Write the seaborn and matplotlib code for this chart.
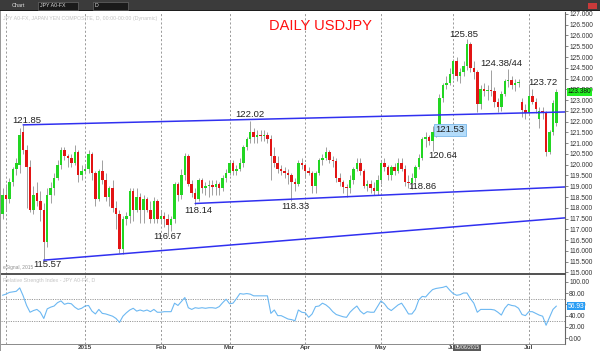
import numpy as np
import pandas as pd
import matplotlib
matplotlib.use("Agg")
import matplotlib.pyplot as plt
import seaborn as sns
from matplotlib.patches import Rectangle

# ---------------- data ----------------
dates = pd.bdate_range("2014-11-28", "2015-07-13")

opens = [117.7,118.6,118.4,119.2,119.8,120.0,121.5,120.7,119.9,117.9,118.7,118.3,117.9,116.4,118.6,118.9,119.4,120.0,120.7,120.4,
         120.3,120.1,120.6,119.5,119.7,119.8,120.5,119.6,118.4,119.7,119.3,118.5,118.9,118.0,117.7,116.1,117.5,117.6,118.8,117.9,
         118.5,117.9,118.4,117.9,117.5,118.3,117.5,117.6,117.5,117.2,117.5,119.1,118.6,119.5,120.4,119.1,118.7,118.4,119.3,118.9,
         119.0,119.05,118.95,119.1,118.9,119.4,119.6,120.1,119.7,119.8,120.1,120.8,121.2,121.5,121.3,121.4,121.35,121.4,121.2,120.4,
         120.1,119.8,119.7,119.6,119.5,119.2,119.1,120.1,120.0,119.7,119.6,119.0,119.6,120.2,120.3,120.6,120.2,120.15,119.4,119.2,
         118.95,118.9,119.3,119.8,120.1,119.7,119.0,119.1,118.9,118.8,119.3,120.1,119.9,119.5,119.9,119.7,120.1,119.8,119.2,119.15,
         119.4,119.9,120.3,121.2,121.3,121.1,121.5,121.55,123.1,123.7,123.8,124.2,124.8,124.1,124.3,124.6,125.6,124.5,124.3,122.8,
         123.5,123.4,123.45,123.4,122.9,122.7,123.3,123.9,123.95,123.7,123.8,122.9,122.55,122.4,123.2,122.9,122.1,122.5,122.4,120.6,
         121.5,121.95]
highs = [118.9,119.1,119.4,119.9,120.3,121.7,121.85,120.9,120.2,119.0,119.2,118.8,118.2,118.9,119.2,119.6,120.2,120.8,120.8,120.5,
         120.5,120.9,120.7,120.0,120.0,120.7,120.6,119.7,119.8,120.2,119.6,119.0,119.3,118.3,117.9,117.6,117.8,118.9,118.9,118.9,
         118.7,118.6,118.5,118.3,118.5,118.4,117.9,117.8,117.7,117.6,119.2,119.2,119.8,120.55,120.5,119.3,118.9,119.4,119.4,119.2,
         119.3,119.3,119.3,119.2,119.5,119.8,120.2,120.2,120.0,120.3,120.9,121.3,122.02,121.7,121.6,121.6,121.6,121.5,121.4,120.8,
         120.4,120.0,119.9,119.8,119.6,119.4,120.2,120.3,120.1,119.9,119.7,119.7,120.3,120.5,120.8,120.7,120.4,120.3,119.6,119.3,
         119.1,119.5,119.9,120.3,120.3,119.8,119.3,119.3,119.2,119.5,120.2,120.3,120.0,120.0,120.1,120.3,120.3,120.0,119.5,119.6,
         120.0,120.5,121.3,121.5,121.4,121.8,121.7,123.3,123.8,124.1,124.5,124.9,125.0,124.5,124.8,125.85,125.7,124.8,124.4,123.7,
         123.8,123.7,124.38,123.6,123.1,123.4,124.0,124.44,124.1,124.0,124.0,123.1,122.8,123.72,123.5,123.1,122.7,122.7,122.5,121.6,
         123.0,123.5]
lows = [117.5,117.9,118.2,119.0,119.5,119.6,120.5,118.0,117.8,117.7,118.1,117.4,115.57,116.2,118.2,118.6,119.3,119.8,120.2,119.9,
        119.9,120.0,119.2,119.3,119.6,119.6,119.3,118.1,118.3,119.1,118.3,118.1,117.8,117.0,115.9,115.85,117.2,117.3,117.4,117.8,
        117.3,117.3,117.8,117.3,117.3,117.3,117.3,117.1,116.67,116.9,117.3,118.3,118.4,119.3,119.0,118.5,118.14,118.3,118.7,118.6,
        118.5,118.6,118.6,118.6,118.8,119.2,119.5,119.5,119.5,119.7,119.9,120.7,121.0,121.0,121.0,121.1,121.1,121.0,119.3,119.9,
        119.6,119.5,119.4,119.1,118.33,118.8,119.0,119.8,119.4,119.5,118.7,118.7,119.5,120.0,120.2,120.1,119.9,119.2,119.0,118.7,
        118.5,118.7,119.1,119.7,119.5,118.9,118.8,118.7,118.6,118.6,119.1,119.7,119.3,119.3,119.5,119.6,119.7,119.0,118.9,118.86,
        119.2,119.8,120.2,120.8,120.9,120.64,121.3,121.53,122.9,123.5,123.7,124.0,123.9,123.8,124.1,124.4,124.3,124.0,122.45,122.6,
        123.2,123.0,123.2,122.7,122.45,122.5,123.2,123.6,123.5,123.4,123.6,122.2,122.1,122.3,122.8,122.4,121.7,122.1,120.41,120.5,
        121.4,121.8]
closes = [118.6,118.4,119.2,119.8,120.1,121.4,120.7,119.9,117.9,118.6,118.3,117.9,116.4,118.6,118.9,119.4,120.0,120.7,120.4,120.3,
          120.1,120.6,119.5,119.7,119.8,120.5,119.6,118.4,119.7,119.3,118.5,118.9,118.0,117.7,116.1,117.5,117.6,118.8,117.9,118.5,
          117.9,118.4,117.9,117.5,118.3,117.5,117.6,117.5,117.2,117.5,119.1,118.6,119.5,120.4,119.1,118.7,118.4,119.3,118.9,119.0,
          119.05,118.95,119.1,118.9,119.4,119.6,120.1,119.7,119.8,120.1,120.8,121.2,121.5,121.3,121.4,121.35,121.4,121.2,120.4,120.1,
          119.8,119.7,119.6,119.5,119.2,119.1,120.1,120.0,119.7,119.6,119.0,119.6,120.2,120.3,120.6,120.2,120.15,119.4,119.2,118.95,
          118.9,119.3,119.8,120.1,119.7,119.0,119.1,118.9,118.8,119.3,120.1,119.9,119.5,119.9,119.7,120.1,119.8,119.2,119.15,119.4,
          119.9,120.3,121.2,121.3,121.1,121.5,121.55,123.1,123.7,123.8,124.2,124.8,124.1,124.3,124.6,125.6,124.5,124.3,122.8,123.5,
          123.4,123.45,123.4,122.9,122.7,123.3,123.9,123.95,123.7,123.8,123.85,122.55,122.4,123.2,122.9,122.6,122.5,122.4,120.6,121.5,
          122.85,123.38]
rsi = [76,78,81,82,83,89,75,58,46,49,51,46,35,52,55,57,63,66,60,62,
       61,55,51,53,57,58,48,43,51,44,43,41,39,35,28,39,45,50,53,48,
       50,48,50,47,51,46,46,47,47,47,62,58,65,72,54,51,54,53,54,53,
       54,54,53,56,63,69,61,62,70,79,78,79,78,75,75,75,75,75,44,50,
       40,40,37,34,33,31,50,46,45,37,43,56,57,62,59,54,47,42,40,38,
       37,46,52,57,48,43,47,46,46,56,66,61,53,49,54,59,62,53,43,43,
       51,68,74,73,80,86,88,89,90,92,85,79,76,77,80,80,70,62,46,51,
       51,51,51,50,46,41,53,60,58,57,53,42,40,47,47,44,41,39,23,37,
       51,56.93]

month_labels = ["", "2015", "Feb", "Mar", "Apr", "May", "Jun", "Jul"]
price_ticks = [115 + 0.5 * k for k in range(25)]
rsi_ticks = [0, 20, 40, 60, 80, 100]

# trend lines: (start date, start price, end date, end price)
trend_lines = [("2014-12-08", 121.85, "2015-07-13", 122.44),
               ("2015-02-16", 118.20, "2015-07-13", 118.95),
               ("2014-12-16", 115.57, "2015-07-13", 117.50)]

# annotation texts: (text, date, price)
notes = [("121.85", "2014-12-09", 122.05), ("115.57", "2014-12-17", 115.35),
         ("116.67", "2015-02-04", 116.65), ("118.14", "2015-02-17", 117.87),
         ("122.02", "2015-03-10", 122.31), ("118.33", "2015-03-27", 118.04),
         ("118.86", "2015-05-19", 118.97), ("120.64", "2015-05-27", 120.43),
         ("125.85", "2015-06-04", 126.03), ("124.38/44", "2015-06-19", 124.71),
         ("123.72", "2015-07-07", 123.83)]
box_note = ("121.53", "2015-05-29", 121.62)

# ---------------- figure ----------------
sns.set_theme(style="white")
plt.rcParams['font.family'] = ['Liberation Sans', 'DejaVu Sans']

df = pd.DataFrame({"date": dates, "open": opens, "high": highs, "low": lows, "close": closes, "rsi": rsi})
df["pos"] = np.arange(len(df))
pos_of = {d: p for d, p in zip(df["date"], df["pos"])}

W, H = 600, 351
fig = plt.figure(figsize=(W / 100, H / 100), dpi=100)
fig.patch.set_facecolor("white")

def frac(x0, y0, x1, y1):
    return [x0 / W, 1 - y1 / H, (x1 - x0) / W, (y1 - y0) / H]

PY0, PY1 = 114.95, 127.09
RY0, RY1 = -10.1, 111.8
ax = fig.add_axes(frac(1, 12, 565, 273.5))
ax2 = fig.add_axes(frac(1, 275, 565, 344), sharex=ax)

xmin, xmax = -0.44, 163.5
ax.set_xlim(xmin, xmax)
ax.set_ylim(PY0, PY1)
ax2.set_ylim(RY0, RY1)

# month grid
first_days = df.groupby(df["date"].dt.to_period("M"))["pos"].min().values
first_days = [p for p in first_days if p > 0]
for a in (ax, ax2):
    for p in first_days:
        a.axvline(p, color="#8a8a8a", lw=0.6, ls=(0, (2.5, 2.5)), zorder=0)

# candles
up = df["close"] >= df["open"]
cols = np.where(up, "#22d622", "#e21414")
ax.vlines(df["pos"], df["low"], df["high"], color="#a0a0a0", lw=0.7, zorder=2)
body = (df["close"] - df["open"]).abs().clip(lower=0.04)
bottom = np.minimum(df["open"], df["close"])
ax.bar(df["pos"], body, bottom=bottom, width=0.72, color=cols, edgecolor="none", zorder=3)

# trend lines extended to right edge
for d0, p0, d1, p1 in trend_lines:
    x0, x1 = pos_of[pd.Timestamp(d0)], pos_of[pd.Timestamp(d1)]
    slope = (p1 - p0) / (x1 - x0)
    ax.plot([x0, xmax], [p0, p0 + slope * (xmax - x0)], color="#3030f0", lw=1.1, zorder=4)

for t, d, p in notes:
    ax.text(pos_of[pd.Timestamp(d)], p, t, ha="center", va="center", fontsize=6.8, color="#222222", zorder=6)
t, d, p = box_note
ax.text(pos_of[pd.Timestamp(d)], p, t, ha="center", va="center", fontsize=6.8, color="#222222", zorder=6,
        bbox=dict(boxstyle="square,pad=0.15", fc="#b4dcfa", ec="#7ab8ea", lw=0.6))

ax.text(0.566, 0.947, "DAILY USDJPY", transform=ax.transAxes, ha="center", va="center",
        fontsize=10.5, color="#ff1010")
ax.text(0.004, 0.985, "JPY A0-FX, JAPAN YEN COMPOSITE, D, 00:00-00:00 (Dynamic)", transform=ax.transAxes,
        ha="left", va="top", fontsize=3.8, color="#c4c4c4")
ax.text(0.004, 0.012, "eSignal, 2015", transform=ax.transAxes, ha="left", va="bottom", fontsize=3.5, color="#909090")

# right axis
for a in (ax, ax2):
    a.yaxis.tick_right()
    a.tick_params(axis="y", which="both", length=2, width=0.5, color="#555555", pad=1,
                  labelsize=4.8, labelcolor="#333333")
    for s in ["top", "left", "bottom"]:
        a.spines[s].set_visible(False)
    a.spines["right"].set_color("#666666")
    a.spines["right"].set_linewidth(0.8)
    a.set_facecolor("white")
ax.set_yticks(price_ticks)
ax.set_yticklabels([f"{v:.3f}" for v in price_ticks])
ax.tick_params(axis="x", bottom=False, labelbottom=False)

# last price label
last = closes[-1]
ax.text(1.005, (last - PY0) / (PY1 - PY0), f"{last:.3f}", transform=ax.transAxes, ha="left", va="center",
        fontsize=4.8, color="#111111", clip_on=False, zorder=7,
        bbox=dict(boxstyle="square,pad=0.12", fc="#22ee22", ec="none"))

# RSI panel
sns.lineplot(x=df["pos"], y=df["rsi"], ax=ax2, color="#6cb8f2", lw=0.8, legend=False)
for lvl in (70, 30):
    ax2.axhline(lvl, color="#9a9a9a", lw=0.7, ls=(0, (1.2, 1.2)), zorder=1)
ax2.set_yticks(rsi_ticks)
ax2.set_yticklabels([f"{v:.2f}" for v in rsi_ticks])
ax2.set_xticks(first_days)
ax2.set_xticklabels(month_labels)
ax2.tick_params(axis="x", length=0, pad=0.5, labelsize=4.6, labelcolor="#444444")
for lab in ax2.get_xticklabels():
    lab.set_fontweight("bold")
ax2.spines["bottom"].set_visible(True)
ax2.spines["bottom"].set_color("#777777")
ax2.spines["bottom"].set_linewidth(0.6)
ax2.set_xlabel(""); ax2.set_ylabel("")
ax2.text(0.004, 0.95, "Relative Strength Index - JPY A0-FX, D", transform=ax2.transAxes,
         ha="left", va="top", fontsize=3.8, color="#c4c4c4")
ax2.text(1.005, (rsi[-1] - RY0) / (RY1 - RY0), f"{rsi[-1]:.2f}", transform=ax2.transAxes, ha="left",
         va="center", fontsize=4.8, color="white", clip_on=False,
         bbox=dict(boxstyle="square,pad=0.12", fc="#2a9df4", ec="none"))

# separator between panels and frame
fig.add_artist(Rectangle((0, 1 - 275 / H), 566 / W, 1.6 / H, transform=fig.transFigure, fc="#555555", ec="none"))
fig.add_artist(Rectangle((0, 0), 1.2 / W, 1, transform=fig.transFigure, fc="#999999", ec="none"))

# toolbar
fig.add_artist(Rectangle((0, 1 - 11 / H), 1, 11 / H, transform=fig.transFigure, fc="#3b3b3b", ec="none"))
fig.add_artist(Rectangle((0, 1 - 11 / H), 1, 1.2 / H, transform=fig.transFigure, fc="#1e1e1e", ec="none"))
fig.text(12 / W, 1 - 5.5 / H, "Chart", fontsize=4, color="#dddddd", va="center")
fig.add_artist(Rectangle((38 / W, 1 - 9.5 / H), 40 / W, 8 / H, transform=fig.transFigure, fc="#1a1a1a", ec="#777777", lw=0.4))
fig.text(40 / W, 1 - 5.5 / H, "JPY A0-FX", fontsize=3.8, color="#dddddd", va="center")
fig.add_artist(Rectangle((93 / W, 1 - 9.5 / H), 35 / W, 8 / H, transform=fig.transFigure, fc="#1a1a1a", ec="#777777", lw=0.4))
fig.text(95 / W, 1 - 5.5 / H, "D", fontsize=3.8, color="#dddddd", va="center")
fig.add_artist(Rectangle((588 / W, 1 - 9 / H), 9 / W, 6 / H, transform=fig.transFigure, fc="#c83a3a", ec="none"))

# bottom date cursor box
fig.add_artist(Rectangle((453 / W, 1 - 351 / H), 28 / W, 6.5 / H, transform=fig.transFigure, fc="#5a5a5a", ec="none"))
fig.text(467 / W, 1 - 347.5 / H, "05/06/2015", fontsize=3.6, color="white", ha="center", va="center")

fig.savefig("out.png", dpi=100)
